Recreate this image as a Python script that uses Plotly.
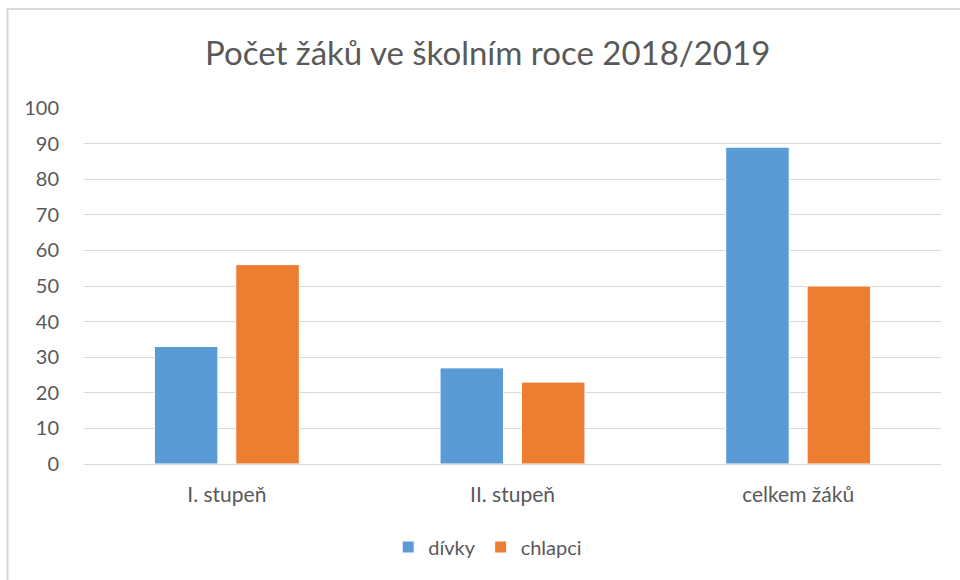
import plotly.graph_objects as go

categories = ["I. stupeň", "II. stupeň", "celkem žáků"]
divky = [33, 27, 89]
chlapci = [56, 23, 50]
series_names = ["dívky", "chlapci"]
y_ticks = list(range(0, 101, 10))

FONT = "Lato, 'Open Sans', sans-serif"
GREY = "#595959"

fig = go.Figure()
fig.add_trace(go.Bar(x=categories, y=divky, name=series_names[0],
                     marker=dict(color="#5B9BD5", line=dict(color="#FFFFFF", width=1))))
fig.add_trace(go.Bar(x=categories, y=chlapci, name=series_names[1],
                     marker=dict(color="#ED7D31", line=dict(color="#FFFFFF", width=1))))

L, R, T, B = 84, 19, 108, 116
W, H = 960, 580
pw = W - L - R
ph = H - T - B

def px_x(px):
    return (px - L) / pw

def px_y(py):
    return (H - B - py) / ph

fig.update_layout(
    width=W, height=H,
    margin=dict(l=L, r=R, t=T, b=B),
    paper_bgcolor="white", plot_bgcolor="white",
    barmode="group", bargap=0.43, bargroupgap=0.22,
    title=dict(text="Počet žáků ve školním roce 2018/2019", x=0.508, xanchor="center",
               y=1 - 53 / H, yanchor="middle", yref="container",
               font=dict(family=FONT, size=33, color=GREY)),
    font=dict(family=FONT, size=20, color=GREY),
    xaxis=dict(showgrid=False, showline=False, zeroline=False, ticks="outside",
               ticklen=12, tickcolor="rgba(0,0,0,0)",
               tickfont=dict(family=FONT, size=21, color=GREY)),
    yaxis=dict(range=[0, 100], tickvals=y_ticks, showgrid=True, gridcolor="#D9D9D9",
               gridwidth=1, zeroline=True, zerolinecolor="#D9D9D9", zerolinewidth=1,
               showline=False, ticks="outside", ticklen=20, tickcolor="rgba(0,0,0,0)",
               tickfont=dict(family=FONT, size=20, color=GREY)),
    legend=dict(orientation="h", x=0.508, xanchor="center", xref="container",
                y=1 - 547 / H, yanchor="middle", yref="container",
                font=dict(family=FONT, size=20, color=GREY), itemwidth=30,
                traceorder="normal"),
    shapes=[dict(type="rect", xref="paper", yref="paper",
                 x0=px_x(7.5), x1=px_x(975), y0=px_y(9), y1=px_y(595),
                 line=dict(color="#D9D9D9", width=2), fillcolor="rgba(0,0,0,0)",
                 layer="below")],
)

fig.write_html("out.html", config={"displayModeBar": False},
               post_script="document.body.style.margin='0';document.body.style.overflow='hidden';")
